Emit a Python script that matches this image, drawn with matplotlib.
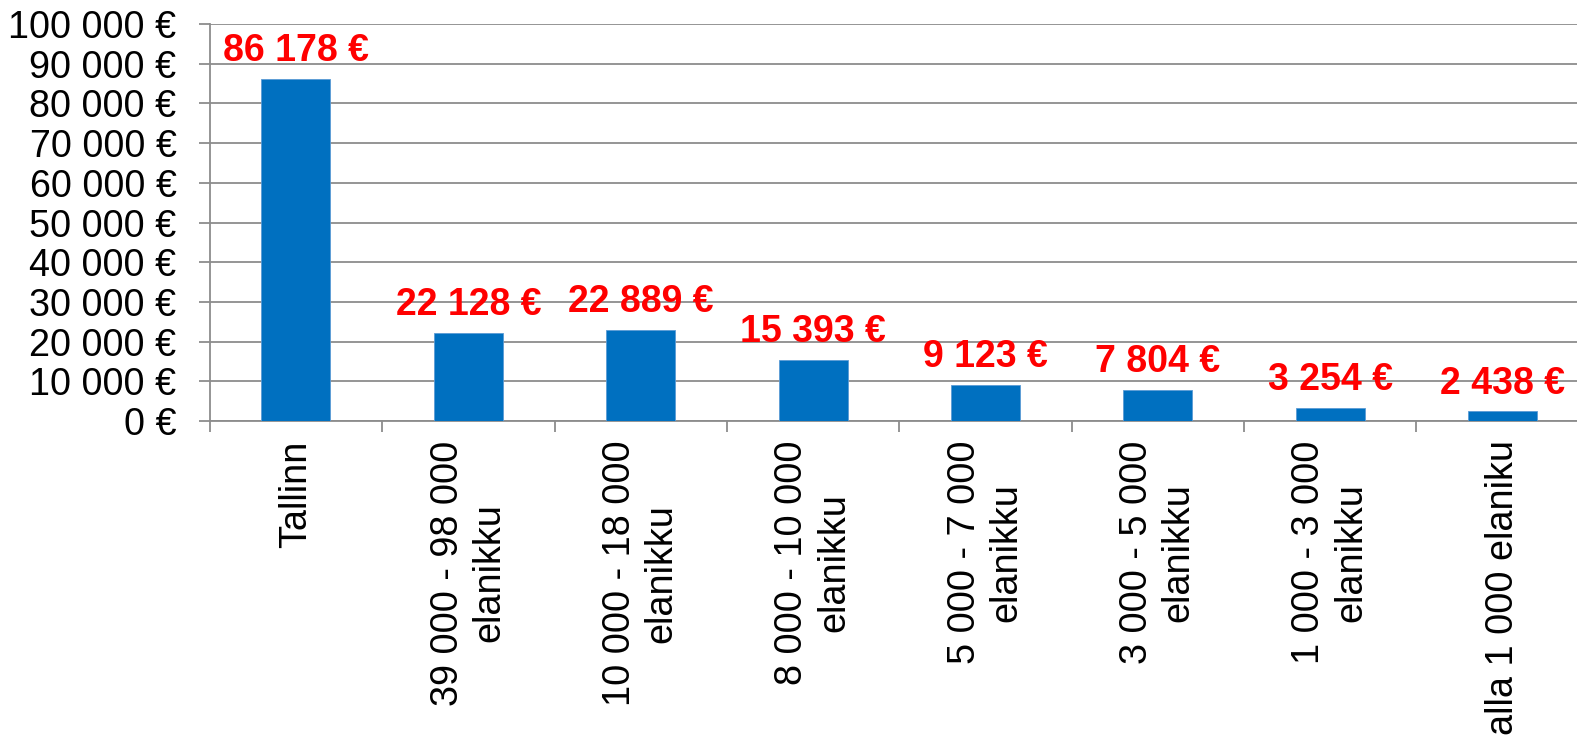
import matplotlib.pyplot as plt
import numpy as np
from matplotlib.ticker import FuncFormatter, MultipleLocator, FixedLocator

plt.rcParams["font.family"] = ["Liberation Sans", "DejaVu Sans"]

categories = ["Tallinn", "39 000 - 98 000\nelanikku", "10 000 - 18 000\nelanikku",
              "8 000 - 10 000\nelanikku", "5 000 - 7 000\nelanikku",
              "3 000 - 5 000\nelanikku", "1 000 - 3 000\nelanikku",
              "alla 1 000 elaniku"]
values = [86178, 22128, 22889, 15393, 9123, 7804, 3254, 2438]

BAR = "#0070C0"
GRID = "#8C8C8C"


def eur(v):
    return f"{int(v):,}".replace(",", " ") + " €"


fig = plt.figure(figsize=(15.77, 7.37), dpi=100)
ax = fig.add_axes([0.1330, 0.4288, 0.8745, 0.5386])

x = np.arange(len(values))
bars = ax.bar(x, values, 0.4, color=BAR, edgecolor="#5B9BD5", linewidth=0.6, zorder=3)
for b, v in zip(bars, values):
    ax.annotate(eur(v), (b.get_x() + b.get_width() / 2, v),
                xytext=(0, 7), textcoords="offset points",
                ha="center", va="bottom", fontsize=27, fontweight="bold",
                color="#FF0000", zorder=4)

ax.set_xlim(-0.5, len(values) - 0.5)
ax.set_ylim(0, 100000)
ax.yaxis.set_major_locator(MultipleLocator(10000))
ax.yaxis.set_major_formatter(FuncFormatter(lambda v, p: eur(v)))
ax.grid(axis="y", color=GRID, linewidth=1.3, zorder=0)
ax.set_axisbelow(True)

ax.set_xticks(x)
ax.set_xticklabels(categories, rotation=90, ha="center", va="top",
                   multialignment="center")
ax.xaxis.set_minor_locator(FixedLocator(np.arange(-0.5, len(values), 1.0)))
ax.tick_params(axis="x", which="major", length=0, pad=14, labelsize=27.3)
ax.tick_params(axis="x", which="minor", length=8, width=1.3, color=GRID)
ax.tick_params(axis="y", length=8, width=1.3, color=GRID, pad=16, labelsize=27.2)

for s in ["top", "right"]:
    ax.spines[s].set_visible(False)
for s in ["left", "bottom"]:
    ax.spines[s].set_color(GRID)
    ax.spines[s].set_linewidth(1.3)

fig.savefig("out.png", dpi=100)
